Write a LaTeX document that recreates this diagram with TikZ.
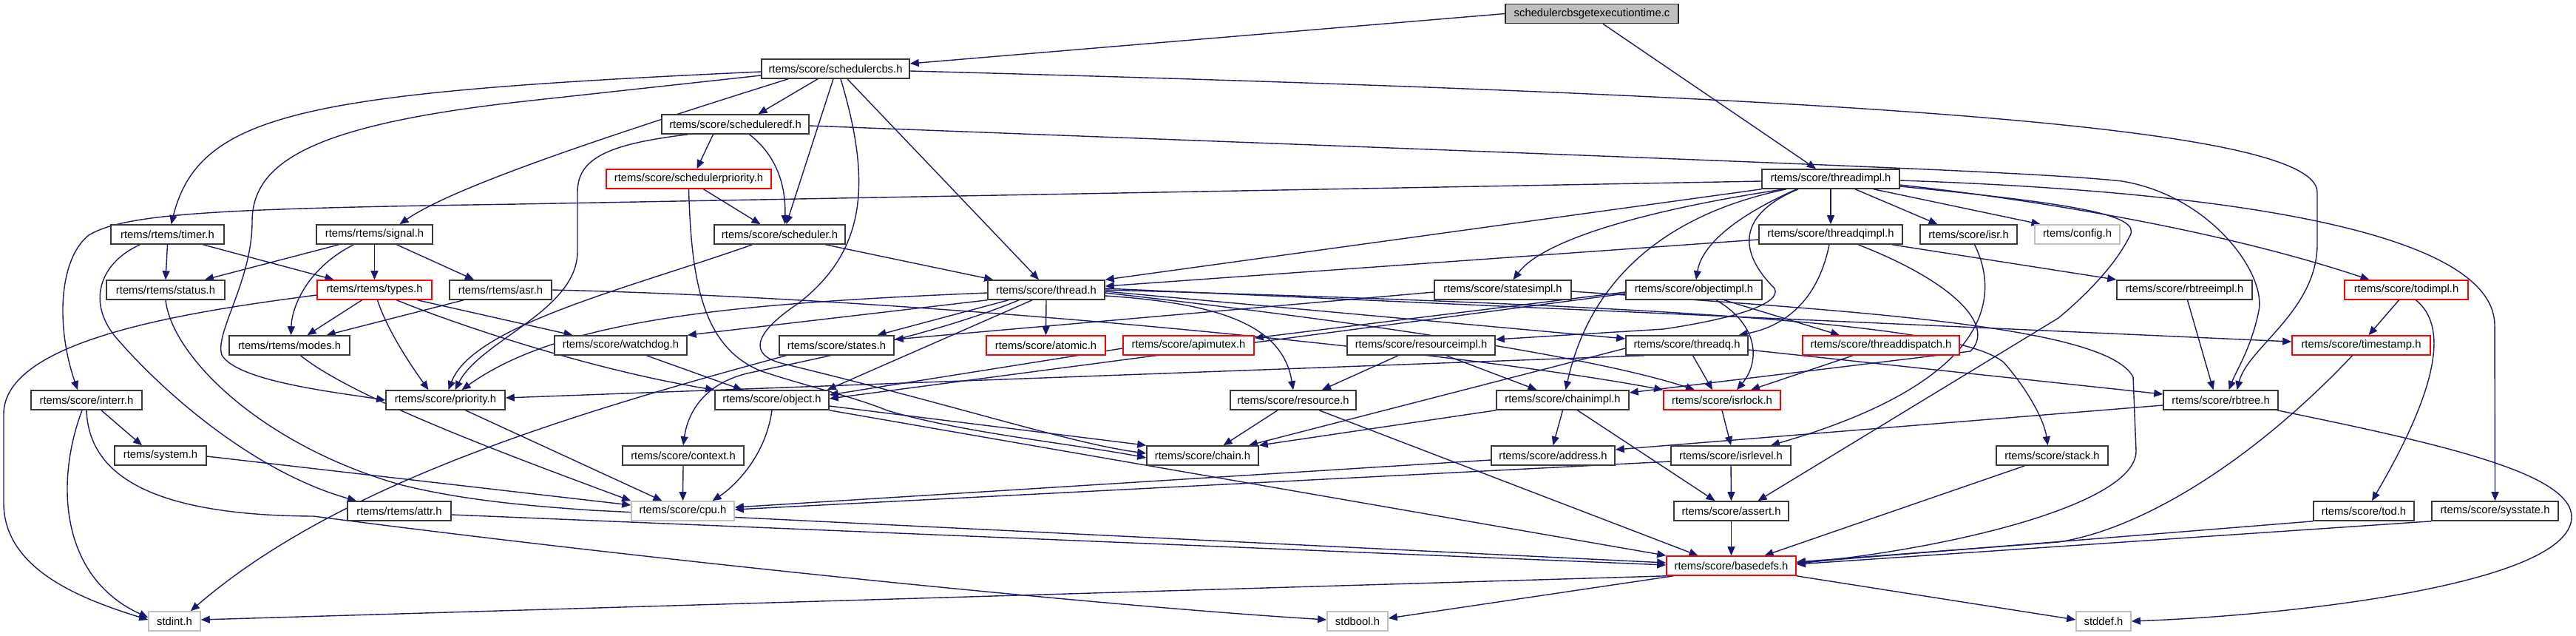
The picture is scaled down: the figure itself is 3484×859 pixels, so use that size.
\documentclass[tikz,border=0pt]{standalone}
\usepackage{fontspec}
\setmainfont{Liberation Sans}
\usetikzlibrary{arrows.meta}
\definecolor{edgecol}{HTML}{191970}
\definecolor{nfgray}{HTML}{BFBFBF}
\newcommand{\nodefont}{\fontsize{14.8}{17}\selectfont}
\pgfdeclarelayer{bglayer}
\pgfdeclarelayer{edgelayer}
\pgfsetlayers{bglayer,edgelayer,main}
\tikzset{
  box/.style={draw=black!78, line width=1.6pt, rectangle, inner sep=0pt, minimum height=26pt, fill=white, font=\nodefont, text=black},
  redbox/.style={box, draw=red},
  graybox/.style={box, draw=nfgray},
  srcbox/.style={box, fill=nfgray, draw=black!85},
  edge/.style={draw=edgecol, line width=1.4pt, -{Triangle[length=12pt,width=10pt]}},
}
\begin{document}
\begin{tikzpicture}[x=1pt,y=-1pt]
\useasboundingbox (0,0) rectangle (3484,859);
\begin{pgfonlayer}{bglayer}
\fill[white] (0,0) rectangle (3484,859);
\end{pgfonlayer}
% row 0-3
\node[srcbox, minimum width=234pt] (src) at (2153,18.5) {schedulercbsgetexecutiontime.c};
\node[box, minimum width=200pt] (cbs) at (1130,93) {rtems/score/schedulercbs.h};
\node[box, minimum width=199pt] (edf) at (994.5,168) {rtems/score/scheduleredf.h};
\node[redbox, minimum width=223pt] (spri) at (931.5,242) {rtems/score/schedulerpriority.h};
\node[box, minimum width=186pt] (timpl) at (2476,242) {rtems/score/threadimpl.h};
% row 4
\node[box, minimum width=153pt] (timer) at (226.5,317) {rtems/rtems/timer.h};
\node[box, minimum width=157pt] (signal) at (506.5,317) {rtems/rtems/signal.h};
\node[box, minimum width=177pt] (sched) at (1054.5,317) {rtems/score/scheduler.h};
\node[box, minimum width=194pt] (tqimpl) at (2476,317) {rtems/score/threadqimpl.h};
\node[box, minimum width=131pt] (isr) at (2662.5,317) {rtems/score/isr.h};
\node[graybox, minimum width=115pt] (config) at (2809.5,317) {rtems/config.h};
% row 5
\node[box, minimum width=160pt] (status) at (224,392) {rtems/rtems/status.h};
\node[redbox, minimum width=155pt] (types) at (506.5,392) {rtems/rtems/types.h};
\node[box, minimum width=138pt] (asr) at (677,392) {rtems/rtems/asr.h};
\node[box, minimum width=158pt] (thread) at (1415,392) {rtems/score/thread.h};
\node[box, minimum width=185pt] (statesimpl) at (2032.5,392) {rtems/score/statesimpl.h};
\node[box, minimum width=184pt] (objimpl) at (2291,392) {rtems/score/objectimpl.h};
\node[box, minimum width=183pt] (rbtimpl) at (2954.5,392) {rtems/score/rbtreeimpl.h};
\node[redbox, minimum width=167pt] (todimpl) at (3254.5,392) {rtems/score/todimpl.h};
% row 6
\node[box, minimum width=163pt] (modes) at (391.5,467) {rtems/rtems/modes.h};
\node[box, minimum width=179pt] (watchdog) at (839.5,467) {rtems/score/watchdog.h};
\node[box, minimum width=155pt] (states) at (1131.5,467) {rtems/score/states.h};
\node[redbox, minimum width=161pt] (atomic) at (1414.5,467) {rtems/score/atomic.h};
\node[redbox, minimum width=177pt] (apimutex) at (1607.5,467) {rtems/score/apimutex.h};
\node[box, minimum width=200pt] (resimpl) at (1922,467) {rtems/score/resourceimpl.h};
\node[box, minimum width=165pt] (threadq) at (2281.5,467) {rtems/score/threadq.h};
\node[redbox, minimum width=212pt] (tdisp) at (2544,467) {rtems/score/threaddispatch.h};
\node[redbox, minimum width=187pt] (timestamp) at (3193.5,467) {rtems/score/timestamp.h};
% row 7
\node[box, minimum width=150pt] (interr) at (117,541) {rtems/score/interr.h};
\node[box, minimum width=161pt] (priority) at (602.5,541) {rtems/score/priority.h};
\node[box, minimum width=154pt] (object) at (1044,541) {rtems/score/object.h};
\node[box, minimum width=170pt] (resource) at (1749,541) {rtems/score/resource.h};
\node[box, minimum width=179pt] (chainimpl) at (2113.5,541) {rtems/score/chainimpl.h};
\node[redbox, minimum width=158pt] (isrlock) at (2329,541) {rtems/score/isrlock.h};
\node[box, minimum width=155pt] (rbtree) at (3003.5,541) {rtems/score/rbtree.h};
% row 8
\node[box, minimum width=124pt] (system) at (217,616) {rtems/system.h};
\node[box, minimum width=164pt] (context) at (924,616) {rtems/score/context.h};
\node[box, minimum width=151pt] (chain) at (1626.5,616) {rtems/score/chain.h};
\node[box, minimum width=167pt] (address) at (2100.5,616) {rtems/score/address.h};
\node[box, minimum width=162pt] (isrlevel) at (2341,616) {rtems/score/isrlevel.h};
\node[box, minimum width=151pt] (stack) at (2775.5,616) {rtems/score/stack.h};
% row 9
\node[box, minimum width=140pt] (attr) at (540,691) {rtems/rtems/attr.h};
\node[graybox, minimum width=139pt] (cpu) at (923.5,691) {rtems/score/cpu.h};
\node[box, minimum width=155pt] (assert) at (2341.5,691) {rtems/score/assert.h};
\node[box, minimum width=136pt] (tod) at (3197,691) {rtems/score/tod.h};
\node[box, minimum width=171pt] (sysstate) at (3374.5,691) {rtems/score/sysstate.h};
% row 10-11
\node[redbox, minimum width=175pt] (basedefs) at (2341.5,765) {rtems/score/basedefs.h};
\node[graybox, minimum width=70pt] (stdint) at (236,840) {stdint.h};
\node[graybox, minimum width=82pt] (stdbool) at (1836,840) {stdbool.h};
\node[graybox, minimum width=74pt] (stddef) at (2845,840) {stddef.h};

\begin{pgfonlayer}{edgelayer}
% src
\draw[edge] (src.west) -- ([yshift=7pt]cbs.east);
\draw[edge] ([xshift=15pt]src.south) -- ([xshift=-20pt]timpl.north);
% cbs
\draw[edge] ([yshift=-4pt]cbs.west) .. controls (420,125) and (270,150) .. ([xshift=5pt]timer.north);
\draw[edge] ([xshift=-64pt]cbs.south) .. controls (800,190) and (610,255) .. ([xshift=34pt]signal.north);
\draw[edge] ([yshift=-9pt]cbs.west) -- (700,138) .. controls (420,170) and (341,220) .. (341,300) .. controls (341,380) and (290,450) .. (300,480) .. controls (320,515) and (450,530) .. (priority.west);
\draw[edge] ([xshift=-24pt]cbs.south) -- ([xshift=31pt]edf.north);
\draw[edge] ([xshift=-3pt]cbs.south) -- ([xshift=9pt]sched.north);
\draw[edge] ([xshift=7pt]cbs.south) .. controls (1180,250) and (1170,340) .. (1080,410) .. controls (1020,450) and (1010,480) .. (1060,492) .. controls (1300,550) and (1450,600) .. ([yshift=3pt]chain.west);
\draw[edge] ([xshift=16pt]cbs.south) -- ([xshift=-10pt]thread.north);
\draw[edge] ([yshift=-3pt]cbs.east) .. controls (2500,130) and (3134,170) .. (3134,260) -- (3134,330) .. controls (3134,420) and (3040,470) .. ([xshift=22pt]rbtree.north);
% edf
\draw[edge] ([xshift=-64pt]edf.south) .. controls (820,195) and (781,215) .. (781,260) -- (781,340) .. controls (781,420) and (650,460) .. ([xshift=13pt]priority.north);
\draw[edge] ([xshift=-30pt]edf.south) -- ([xshift=11pt]spri.north);
\draw[edge] ([xshift=19pt]edf.south) .. controls (1050,210) and (1063,250) .. ([xshift=7pt]sched.north);
\draw[edge] ([yshift=-2pt]edf.east) .. controls (2400,220) and (2750,232) .. (2870,245) .. controls (2990,265) and (3065,370) .. (3055,420) .. controls (3045,470) and (3025,500) .. ([xshift=11pt]rbtree.north);
% spri
\draw[edge] ([xshift=20pt]spri.south) -- ([xshift=-26pt]sched.north);
\draw[edge] (spri.south) .. controls (935,380) and (950,470) .. (1030,502) .. controls (1100,525) and (1150,535) .. (1200,555) .. controls (1300,585) and (1450,600) .. ([yshift=-3pt]chain.west);
% sched
\draw[edge] ([xshift=-37pt]sched.south) .. controls (850,390) and (640,440) .. ([xshift=4pt]priority.north);
\draw[edge] ([xshift=62pt]sched.south) -- ([xshift=8pt]thread.north west);
% timpl
\draw[edge] ([yshift=-3pt]timpl.west) -- (700,276) .. controls (300,282) and (170,288) .. (120,318) .. controls (80,350) and (75,440) .. ([xshift=-12pt]interr.north);
\draw[edge] (timpl.south west) -- (thread.north east);
\draw[edge] ([xshift=-63pt]timpl.south) .. controls (2250,280) and (2090,320) .. ([xshift=14pt]statesimpl.north);
\draw[edge] ([xshift=-60pt]timpl.south) .. controls (2250,290) and (2150,380) .. ([xshift=4pt]chainimpl.north);
\draw[edge] ([xshift=-46pt]timpl.south) .. controls (2330,300) and (2300,340) .. ([xshift=3pt]objimpl.north);
\draw[edge] ([xshift=-44pt]timpl.south) .. controls (2350,290) and (2350,340) .. (2400,390) .. controls (2410,410) and (2350,430) .. (2250,445) -- ([yshift=8pt]resimpl.east);
\draw[edge] (timpl.south) -- (tqimpl.north);
\draw[edge] ([xshift=33pt]timpl.south) -- ([xshift=-42pt]isr.north);
\draw[edge] ([xshift=58pt]timpl.south) -- ([xshift=-50pt]config.north);
\draw[edge] ([yshift=-8pt]timpl.east) .. controls (2750,270) and (3000,310) .. ([xshift=-50pt]todimpl.north);
\draw[edge] ([yshift=-2pt]timpl.east) .. controls (3100,262) and (3374,330) .. (3374,440) -- (sysstate.north);
\draw[edge] ([yshift=-10pt]timpl.east) .. controls (2800,275) and (2900,290) .. (2880,320) .. controls (2860,360) and (2820,400) .. (2784,430) -- ([xshift=36pt]assert.north);
% timer
\draw[edge] ([xshift=-37pt]timer.south) .. controls (135,355) and (115,410) .. (160,460) .. controls (230,540) and (350,640) .. ([xshift=-58pt]attr.north);
\draw[edge] (timer.south) -- (status.north);
\draw[edge] ([xshift=48pt]timer.south) -- ([xshift=-55pt]types.north);
% signal
\draw[edge] ([xshift=-48pt]signal.south) -- ([xshift=53pt]status.north);
\draw[edge] ([xshift=-28pt]signal.south) .. controls (420,360) and (395,410) .. ([xshift=2pt]modes.north);
\draw[edge] (signal.south) -- (types.north);
\draw[edge] ([xshift=30pt]signal.south) -- ([xshift=-36pt]asr.north);
% tqimpl
\draw[edge] ([xshift=-2pt]tqimpl.south) .. controls (2460,400) and (2420,440) .. ([xshift=70pt]threadq.north);
\draw[edge] ([xshift=37pt]tqimpl.south) .. controls (2640,380) and (2700,440) .. (2665,475) -- ([yshift=10pt]chainimpl.east);
\draw[edge] ([xshift=-15pt]tqimpl.south east) -- (rbtimpl.north west);
\draw[edge] ([yshift=-7pt]tqimpl.west) -- ([yshift=5pt]thread.east);
% isr
\draw[edge] ([xshift=8pt]isr.south) .. controls (2710,410) and (2680,520) .. ([xshift=54pt]isrlevel.north);
% status
\draw[edge] (status.south) .. controls (232,480) and (350,600) .. (540,655) .. controls (620,675) and (700,683) .. (800,690) -- ([yshift=4pt]basedefs.west);
% types
\draw[edge] ([yshift=-7pt]types.west) .. controls (250,422) and (5,460) .. (5,560) -- (5,680) .. controls (5,770) and (110,810) .. ([yshift=2pt]stdint.west);
\draw[edge] ([xshift=-17pt]types.south) -- ([xshift=24pt]modes.north);
\draw[edge] ([xshift=4pt]types.south) .. controls (525,450) and (560,500) .. ([xshift=-23pt]priority.north);
\draw[edge] ([xshift=30pt]types.south) .. controls (620,440) and (800,500) .. (object.north west);
\draw[edge] ([xshift=58pt]types.south) -- ([xshift=-65pt]watchdog.north);
% asr
\draw[edge] ([xshift=-50pt]asr.south) -- ([xshift=50pt]modes.north);
\draw[edge] (asr.east) .. controls (1300,405) and (2000,480) .. (isrlock.north west);
% thread
\draw[edge] ([xshift=-51pt]thread.south) -- ([xshift=55pt]states.north);
\draw[edge] (thread.south) -- (atomic.north);
\draw[edge] ([xshift=-19pt]thread.south) -- ([xshift=-3pt]object.north east);
\draw[edge] ([xshift=-37pt]thread.south) .. controls (1260,455) and (1080,490) .. (1010,505) .. controls (950,520) and (930,560) .. (context.north);
\draw[edge] ([yshift=-4pt]thread.west) .. controls (1000,410) and (760,430) .. ([xshift=22pt]priority.north);
\draw[edge] (thread.south west) -- (watchdog.north east);
\draw[edge] ([yshift=-8pt]thread.east) .. controls (1650,410) and (1735,440) .. (resource.north);
\draw[edge] ([yshift=-4pt]thread.east) .. controls (1800,430) and (2150,480) .. ([xshift=-37pt]isrlock.north);
\draw[edge] ([yshift=-2pt]thread.east) -- ([yshift=9pt]threadq.west);
\draw[edge] (thread.east) .. controls (2300,415) and (2650,440) .. (2710,490) .. controls (2745,530) and (2765,570) .. ([xshift=-6pt]stack.north);
\draw[edge] ([yshift=2pt]thread.east) -- ([yshift=5pt]timestamp.west);
% statesimpl
\draw[edge] ([yshift=-3pt]statesimpl.west) -- ([yshift=8pt]states.east);
\draw[edge] ([yshift=-2pt]statesimpl.east) .. controls (2500,420) and (2850,440) .. (2885,510) -- (2889,610) .. controls (2889,680) and (2650,740) .. ([yshift=3pt]basedefs.east);
% objimpl
\draw[edge] ([yshift=-5pt]objimpl.west) -- ([yshift=2pt]object.east);
\draw[edge] ([yshift=-3pt]objimpl.west) -- ([yshift=10pt]apimutex.east);
\draw[edge] ([xshift=30pt]objimpl.south) .. controls (2380,440) and (2380,490) .. ([xshift=20pt]isrlock.north);
\draw[edge] ([xshift=41pt]objimpl.south) -- ([xshift=-56pt]tdisp.north);
% rbtimpl
\draw[edge] ([xshift=4pt]rbtimpl.south) -- ([xshift=-10pt]rbtree.north);
% todimpl
\draw[edge] ([xshift=-10pt]todimpl.south) -- ([xshift=10pt]timestamp.north);
\draw[edge] ([xshift=13pt]todimpl.south) .. controls (3310,440) and (3300,520) .. ([xshift=11pt]tod.north);
% interr
\draw[edge] ([xshift=-6pt]interr.south) .. controls (75,650) and (80,780) .. ([yshift=5pt]stdint.west);
\draw[edge] (interr.south) .. controls (120,640) and (200,697) .. (424,698) .. controls (900,760) and (1500,820) .. ([yshift=2pt]stdbool.west);
\draw[edge] ([xshift=20pt]interr.south) -- ([xshift=-25pt]system.north);
% modes, priority, watchdog, states, apimutex
\draw[edge] ([xshift=15pt]modes.south) .. controls (480,540) and (700,620) .. (cpu.north west);
\draw[edge] ([xshift=27pt]priority.south) -- ([xshift=-28pt]cpu.north);
\draw[edge] ([xshift=35pt]watchdog.south) -- ([xshift=-40pt]object.north);
\draw[edge] ([xshift=10pt]states.south west) .. controls (750,565) and (450,660) .. ([xshift=-14pt]stdint.north east);
\draw[edge] ([yshift=-4pt]apimutex.west) -- ([yshift=7pt]object.east);
% resimpl
\draw[edge] ([xshift=-31pt]resimpl.south) -- ([xshift=39pt]resource.north);
\draw[edge] ([xshift=34pt]resimpl.south) -- ([xshift=-35pt]chainimpl.north);
% threadq
\draw[edge] ([yshift=-4pt]threadq.west) -- ([xshift=-14pt]chain.north east);
\draw[edge] ([xshift=-58pt]threadq.south) -- ([yshift=3pt]priority.east);
\draw[edge] ([xshift=8pt]threadq.south) -- ([xshift=-13pt]isrlock.north);
\draw[edge] ([yshift=-6pt]threadq.east) -- ([yshift=8pt]rbtree.west);
% tdisp, timestamp
\draw[edge] ([xshift=-38pt]tdisp.south) -- ([xshift=39pt]isrlock.north);
\draw[edge] ([xshift=-12pt]timestamp.south) .. controls (3050,620) and (2900,715) .. (2784,733) -- ([yshift=5pt]basedefs.east);
% object
\draw[edge] (object.south) .. controls (1035,620) and (990,660) .. ([xshift=40pt]cpu.north);
\draw[edge] ([yshift=-8pt]object.east) -- (chain.north west);
\draw[edge] (object.south east) -- (basedefs.north west);
% resource
\draw[edge] ([xshift=-21pt]resource.south) -- ([xshift=28pt]chain.north);
\draw[edge] ([xshift=35pt]resource.south) -- ([xshift=-45pt]basedefs.north);
% chainimpl
\draw[edge] (chainimpl.south west) -- (chain.north east);
\draw[edge] (chainimpl.south) -- (address.north);
\draw[edge] ([xshift=20pt]chainimpl.south) -- ([xshift=-22pt]assert.north);
% address, isrlevel, isrlock
\draw[edge] ([yshift=-6pt]address.west) -- ([yshift=5pt]cpu.east);
\draw[edge] ([yshift=-8pt]isrlevel.west) -- ([yshift=2pt]cpu.east);
\draw[edge] (isrlevel.south) -- (assert.north);
\draw[edge] (isrlock.south) -- (isrlevel.north);
% rbtree
\draw[edge] ([yshift=-7pt]rbtree.west) -- ([yshift=8pt]address.east);
\draw[edge] ([xshift=-2pt]rbtree.south east) .. controls (3300,600) and (3480,640) .. (3478,700) .. controls (3475,790) and (3100,832) .. (stddef.east);
% stack, system, context, attr, assert, tod, sysstate
\draw[edge] ([xshift=-37pt]stack.south) -- ([xshift=45pt]basedefs.north);
\draw[edge] ([yshift=-1pt]system.east) -- ([yshift=8pt]cpu.west);
\draw[edge] (context.south) -- (cpu.north);
\draw[edge] ([yshift=-5pt]attr.east) -- ([yshift=1pt]basedefs.west);
\draw[edge] (assert.south) -- (basedefs.north);
\draw[edge] (tod.south west) -- ([yshift=4pt]basedefs.east);
\draw[edge] (sysstate.south west) -- ([yshift=2pt]basedefs.east);
% basedefs
\draw[edge] (basedefs.south west) -- ([yshift=2pt]stdint.east);
\draw[edge] ([xshift=10pt]basedefs.south west) -- ([yshift=4pt]stdbool.east);
\draw[edge] (basedefs.south east) -- ([yshift=2pt]stddef.west);
\end{pgfonlayer}
\end{tikzpicture}
\end{document}
